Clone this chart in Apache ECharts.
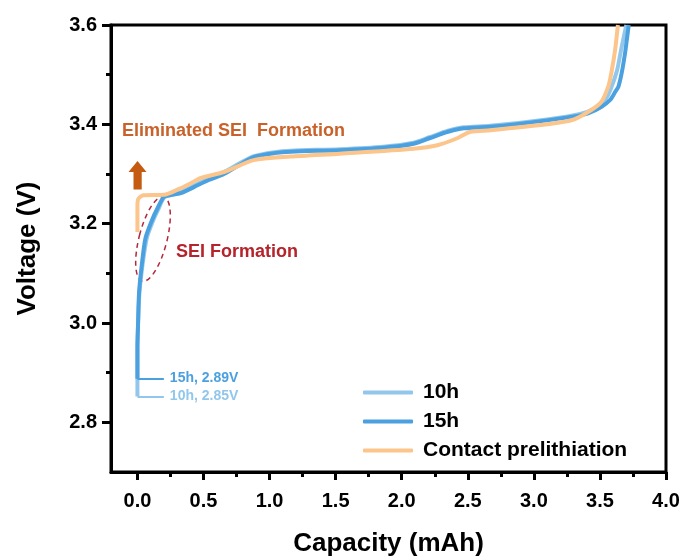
<!DOCTYPE html>
<html>
<head>
<meta charset="utf-8">
<script src="https://cdn.jsdelivr.net/npm/echarts@6/dist/echarts.min.js"></script>
<style>
html, body { margin: 0; padding: 0; background: #fff; }
#chart { width: 688px; height: 556px; }
</style>
</head>
<body>
<div id="chart"></div>
<script>
// capacity (mAh) / voltage (V)
var cap10h = [0, 0, 0.005, 0.015, 0.035, 0.07, 0.12, 0.16, 0.2, 0.26, 0.335, 0.43, 0.54, 0.655, 0.77, 0.88, 1.037, 1.16, 1.53, 1.86, 2.09, 2.21, 2.35, 2.47, 2.67, 3.1, 3.35, 3.46, 3.54, 3.58, 3.63, 3.66, 3.70];
var volt10h = [2.852, 2.95, 3.0, 3.06, 3.11, 3.17, 3.207, 3.23, 3.252, 3.258, 3.264, 3.277, 3.291, 3.304, 3.321, 3.336, 3.344, 3.347, 3.35, 3.355, 3.363, 3.374, 3.387, 3.394, 3.397, 3.41, 3.421, 3.432, 3.449, 3.47, 3.509, 3.55, 3.6];

var cap15h = [0, 0, 0.005, 0.012, 0.03, 0.06, 0.11, 0.15, 0.2, 0.26, 0.335, 0.43, 0.54, 0.655, 0.77, 0.88, 1.037, 1.16, 1.53, 1.86, 2.09, 2.21, 2.35, 2.47, 2.67, 3.1, 3.35, 3.41, 3.51, 3.577, 3.615, 3.64, 3.666, 3.69, 3.706, 3.718];
var volt15h = [2.888, 2.95, 3.0, 3.06, 3.11, 3.17, 3.207, 3.23, 3.254, 3.258, 3.262, 3.274, 3.288, 3.30, 3.318, 3.334, 3.342, 3.345, 3.348, 3.353, 3.361, 3.372, 3.385, 3.392, 3.395, 3.408, 3.418, 3.422, 3.435, 3.449, 3.465, 3.476, 3.505, 3.543, 3.575, 3.6];

var capContact = [0, 0, 0.007, 0.045, 0.2, 0.315, 0.4, 0.48, 0.655, 0.88, 1.16, 1.53, 2.09, 2.27, 2.42, 2.52, 2.67, 3.1, 3.305, 3.5, 3.563, 3.59, 3.615, 3.636];
var voltContact = [3.183, 3.235, 3.25, 3.257, 3.258, 3.27, 3.281, 3.292, 3.304, 3.328, 3.335, 3.341, 3.351, 3.358, 3.372, 3.385, 3.388, 3.40, 3.41, 3.442, 3.476, 3.509, 3.55, 3.6];

var seriesNames = ['10h', '15h', 'Contact prelithiation'];
var seriesColors = ['#92C7EB', '#4BA0DF', '#FBC58C'];

var xMajor = [0, 0.5, 1.0, 1.5, 2.0, 2.5, 3.0, 3.5, 4.0];
var xMinor = [0.25, 0.75, 1.25, 1.75, 2.25, 2.75, 3.25, 3.75];
var yMajor = [2.8, 3.0, 3.2, 3.4, 3.6];
var yMinor = [2.9, 3.1, 3.3, 3.5];

function pairs(xs, ys) {
    return xs.map(function (x, i) { return [x, ys[i]]; });
}

var font = 'Liberation Sans, Arial, sans-serif';

function leader(value, text, color) {
    return {
        silent: true,
        symbol: ['none', 'none'],
        lineStyle: { color: color, width: 2, type: 'solid' },
        label: {
            show: true,
            position: 'end',
            formatter: text,
            color: color,
            fontSize: 14,
            fontWeight: 'bold',
            fontFamily: font,
            distance: 6
        },
        data: [[{ coord: [0, value] }, { coord: [0.2, value] }]]
    };
}

var chart = echarts.init(document.getElementById('chart'));

var tickLabel = { color: '#000', fontSize: 20, fontWeight: 'bold', fontFamily: font };
var axisName = { color: '#000', fontSize: 26, fontWeight: 'bold', fontFamily: font };

var option = {
    animation: false,
    grid: {
        left: 111, right: 22, top: 25, bottom: 84,
        outerBoundsMode: 'none',
        show: true, borderColor: '#000', borderWidth: 3
    },
    legend: {
        data: seriesNames,
        orient: 'vertical',
        left: 358, top: 377,
        icon: 'roundRect',
        itemWidth: 50, itemHeight: 4,
        itemGap: 8,
        textStyle: { color: '#000', fontSize: 21, fontWeight: 'bold', fontFamily: font, lineHeight: 21, padding: [0, 0, 0, 5] }
    },
    xAxis: [
        {
            type: 'value', min: -0.2, max: 4.0,
            name: 'Capacity (mAh)', nameLocation: 'middle', nameGap: 59,
            nameTextStyle: axisName,
            axisLine: { show: true, onZero: false, lineStyle: { color: '#000', width: 3 } },
            axisTick: { show: true, length: 8, lineStyle: { color: '#000', width: 3 }, customValues: xMajor },
            axisLabel: Object.assign({ margin: 19, customValues: xMajor, formatter: function (v) { return v.toFixed(1); } }, tickLabel),
            splitLine: { show: false }
        },
        {
            type: 'value', min: -0.2, max: 4.0, position: 'bottom',
            axisLine: { show: false, onZero: false },
            axisTick: { show: true, length: 5, lineStyle: { color: '#000', width: 3 }, customValues: xMinor },
            axisLabel: { show: false },
            splitLine: { show: false }
        }
    ],
    yAxis: [
        {
            type: 'value', min: 2.7, max: 3.6,
            name: 'Voltage (V)', nameLocation: 'middle', nameGap: 70,
            nameTextStyle: axisName,
            axisLine: { show: true, onZero: false, lineStyle: { color: '#000', width: 3 } },
            axisTick: { show: true, length: 9, lineStyle: { color: '#000', width: 3 }, customValues: yMajor },
            axisLabel: Object.assign({ margin: 14, customValues: yMajor, formatter: function (v) { return v.toFixed(1); } }, tickLabel),
            splitLine: { show: false }
        },
        {
            type: 'value', min: 2.7, max: 3.6, position: 'left',
            axisLine: { show: false, onZero: false },
            axisTick: { show: true, length: 5, lineStyle: { color: '#000', width: 3 }, customValues: yMinor },
            axisLabel: { show: false },
            splitLine: { show: false }
        }
    ],
    series: [
        {
            name: seriesNames[0], type: 'line', smooth: 0.25, showSymbol: false,
            color: seriesColors[0], lineStyle: { width: 4 },
            data: pairs(cap10h, volt10h),
            markLine: leader(2.852, '10h, 2.85V', seriesColors[0])
        },
        {
            name: seriesNames[1], type: 'line', smooth: 0.25, showSymbol: false,
            color: seriesColors[1], lineStyle: { width: 4 },
            data: pairs(cap15h, volt15h),
            markLine: leader(2.888, '15h, 2.89V', seriesColors[1])
        },
        {
            name: seriesNames[2], type: 'line', smooth: 0.25, showSymbol: false,
            color: seriesColors[2], lineStyle: { width: 4 },
            data: pairs(capContact, voltContact)
        }
    ],
    graphic: [
        {
            type: 'text', left: 122, top: 122,
            style: { text: 'Eliminated SEI  Formation', fill: '#C8622A', fontSize: 18, fontWeight: 'bold', fontFamily: font }
        },
        {
            type: 'polygon',
            shape: { points: [[137.5, 161], [146.5, 172], [141.7, 172], [141.7, 189.5], [133.5, 189.5], [133.5, 172], [128.5, 172]] },
            style: { fill: '#C55A11' }
        },
        {
            type: 'ellipse', x: 153, y: 239, rotation: -0.25,
            shape: { cx: 0, cy: 0, rx: 14, ry: 43.5 },
            style: { fill: 'none', stroke: '#B5283A', lineWidth: 1.5, lineDash: [5, 4] }
        },
        {
            type: 'text', left: 176, top: 243,
            style: { text: 'SEI Formation', fill: '#B5232B', fontSize: 18, fontWeight: 'bold', fontFamily: font }
        }
    ]
};

chart.setOption(option);
</script>
</body>
</html>
